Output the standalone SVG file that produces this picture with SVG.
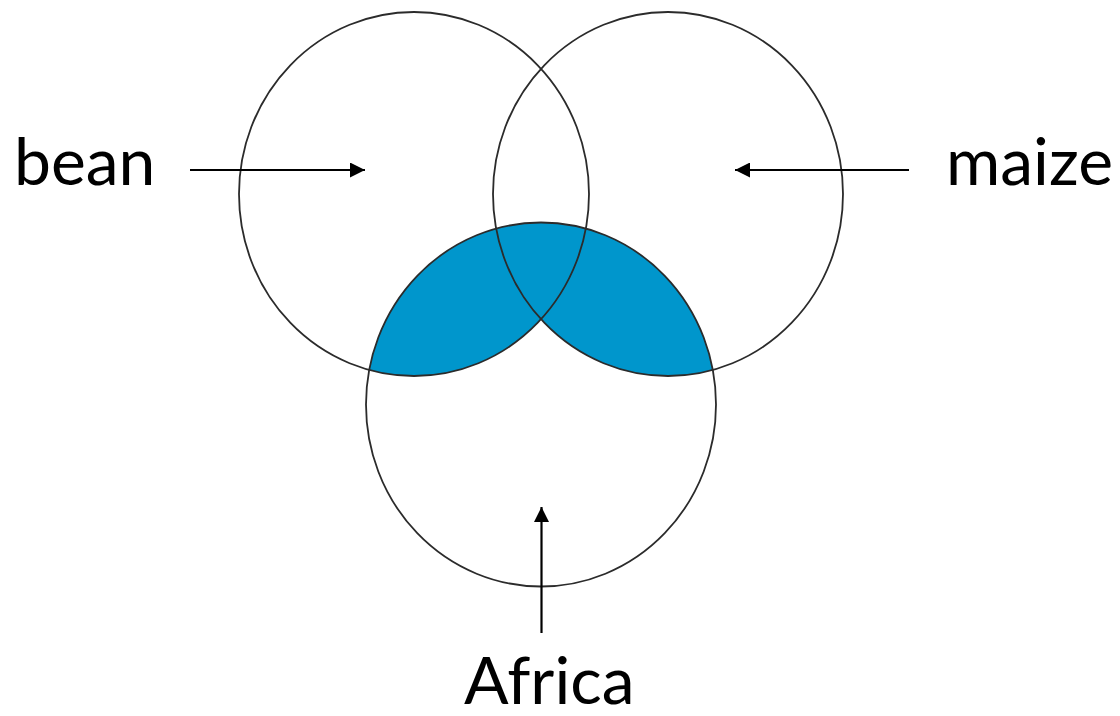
<svg xmlns="http://www.w3.org/2000/svg" width="1120" height="716" viewBox="0 0 1120 716">
  <style>
    .ring { fill: none; stroke: #2b2b2b; stroke-width: 1.8; }
    .shade { fill: #0096CC; stroke: none; }
    .conn { stroke: #000; stroke-width: 2.2; fill: none; marker-end: url(#ah); }
    .lbl { font-family: Lato, "Open Sans", "Liberation Sans", sans-serif; font-size: 66px; fill: #000; }
  </style>
  <defs>
    <marker id="ah" viewBox="0 0 15 15" refX="15" refY="7.5" markerWidth="15" markerHeight="15" markerUnits="userSpaceOnUse" orient="auto">
      <path d="M0,0 L15,7.5 L0,15 Z" fill="#000"/>
    </marker>
    <clipPath id="africaClip">
      <ellipse cx="541" cy="404.5" rx="175" ry="182"/>
    </clipPath>
  </defs>
  <rect width="1120" height="716" fill="#fff"/>
  <g id="shading" clip-path="url(#africaClip)">
    <ellipse class="shade" cx="414" cy="194" rx="175" ry="182"/>
    <ellipse class="shade" cx="668" cy="194" rx="175" ry="182"/>
  </g>
  <g id="bean">
    <ellipse class="ring" cx="414" cy="194" rx="175" ry="182"/>
    <text class="lbl" x="14" y="185">bean</text>
  </g>
  <g id="maize">
    <ellipse class="ring" cx="668" cy="194" rx="175" ry="182"/>
    <text class="lbl" x="946" y="185">maize</text>
  </g>
  <g id="africa">
    <ellipse class="ring" cx="541" cy="404.5" rx="175" ry="182"/>
    <text class="lbl" x="464" y="704">Africa</text>
  </g>
  <g id="connectors">
    <line class="conn" x1="190" y1="170" x2="365" y2="170"/>
    <line class="conn" x1="909" y1="170" x2="735" y2="170"/>
    <line class="conn" x1="541.5" y1="633" x2="541.5" y2="507"/>
  </g>
</svg>
